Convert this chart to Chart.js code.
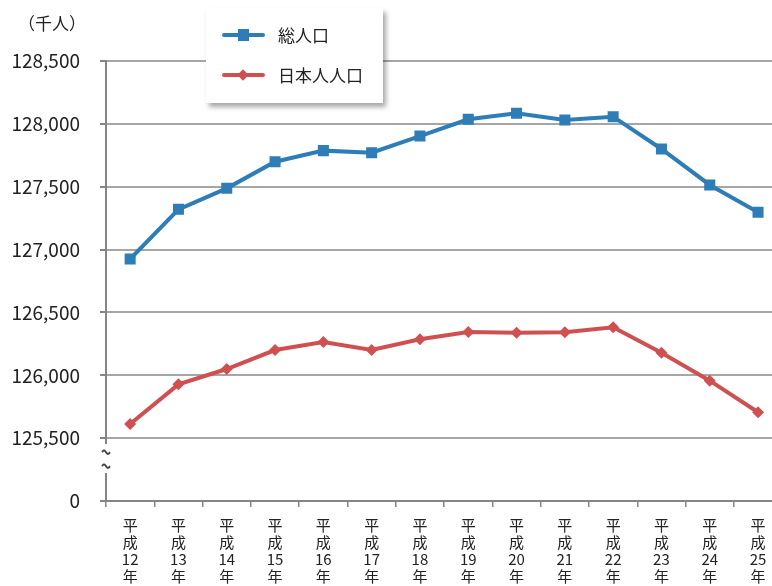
<!DOCTYPE html>
<html>
<head>
<meta charset="utf-8">
<script src="https://cdn.jsdelivr.net/npm/chart.js@4/dist/chart.umd.min.js"></script>
<style>
  html, body { margin: 0; padding: 0; background: #fff; overflow: hidden; }
  #wrap { position: relative; width: 772px; height: 586px; overflow: hidden; }
  #wrap canvas { position: absolute; left: 0; top: 0; }
  .legend {
    position: absolute; left: 206px; top: 8px; width: 177px; height: 95px;
    background: #fff; box-shadow: 3px 4px 5px rgba(0,0,0,0.35);
    font-family: "Noto Sans CJK JP", "Noto Sans", sans-serif; font-size: 17px; color: #222;
  }
  .item { position: absolute; left: 0; height: 24px; width: 177px; }
  .line { position: absolute; left: 16px; top: 10px; width: 43px; height: 4px; border-radius: 2px; }
  .mk { position: absolute; }
  .sq { left: 32px; top: 6px; width: 11px; height: 12px; }
  .dm { left: 33px; top: 8px; width: 8px; height: 8px; transform: rotate(45deg); }
  .txt { position: absolute; left: 72px; top: 0; line-height: 24px; }
</style>
</head>
<body>
<div id="wrap">
  <canvas id="c" width="790" height="586"></canvas>
  <div class="legend">
    <div class="item" style="top:15px">
      <div class="line" style="background:#2e7db6"></div>
      <div class="mk sq" style="background:#2e7db6"></div>
      <span class="txt">総人口</span>
    </div>
    <div class="item" style="top:55px">
      <div class="line" style="background:#d05052"></div>
      <div class="mk dm" style="background:#d05052"></div>
      <span class="txt">日本人人口</span>
    </div>
  </div>
</div>
<script>
// 年次（平成）
const years = [12, 13, 14, 15, 16, 17, 18, 19, 20, 21, 22, 23, 24, 25];
// 総人口（千人）
const totalPop = [126925, 127320, 127487, 127699, 127787, 127771, 127903,
                  128036, 128084, 128031, 128057, 127800, 127514, 127297];
// 日本人人口（千人）
const japanesePop = [125612, 125928, 126050, 126201, 126265, 126201, 126286,
                     126344, 126339, 126342, 126382, 126180, 125957, 125706];
// 縦軸の目盛り（125,000 は省略線の下で「0」と表示）
const yTicks = [125000, 125500, 126000, 126500, 127000, 127500, 128000, 128500];
const yBreakValue = 125000;

const labels = years.map(y => ['平', '成', String(y), '年']);

const FONT = '"Noto Sans CJK JP", "Noto Sans", sans-serif';
const AXIS = '#858585';

// 縦軸の省略記号と単位表示
const axisBreak = {
  id: 'axisBreak',
  afterDraw(chart) {
    const ctx = chart.ctx;
    const y = chart.scales.y;
    const x0 = y.right;
    const yA = y.getPixelForValue(125500) + 6;
    const yB = y.bottom - 28;
    ctx.save();
    ctx.fillStyle = '#fff';
    ctx.fillRect(x0 - 6, yA, 12, yB - yA);
    ctx.strokeStyle = '#444';
    ctx.lineWidth = 1.8;
    [yA + 8, yA + 22].forEach(cy => {
      ctx.beginPath();
      for (let i = 0; i <= 12; i++) {
        const px = x0 - 4 + i * (8 / 12);
        const py = cy - Math.sin(i / 12 * Math.PI * 2) * 1.8;
        if (i === 0) ctx.moveTo(px, py); else ctx.lineTo(px, py);
      }
      ctx.stroke();
    });
    ctx.fillStyle = '#222';
    ctx.font = '17px ' + FONT;
    ctx.textAlign = 'right';
    ctx.textBaseline = 'middle';
    ctx.fillText('（千人）', 86, 24);
    ctx.restore();
  }
};

new Chart(document.getElementById('c'), {
  type: 'line',
  data: {
    labels: labels,
    datasets: [
      {
        label: '総人口',
        data: totalPop,
        borderColor: '#2e7db6',
        backgroundColor: '#2e7db6',
        borderWidth: 4,
        pointStyle: 'rect',
        pointRadius: 7.8,
        pointBorderWidth: 0,
        tension: 0
      },
      {
        label: '日本人人口',
        data: japanesePop,
        borderColor: '#d05052',
        backgroundColor: '#d05052',
        borderWidth: 4,
        pointStyle: 'rectRot',
        pointRadius: 6,
        pointBorderWidth: 0,
        tension: 0
      }
    ]
  },
  options: {
    responsive: false,
    animation: false,
    layout: { padding: { top: 61, left: 0, right: 0, bottom: 0 } },
    plugins: { legend: { display: false }, tooltip: { enabled: false } },
    scales: {
      x: {
        offset: true,
        afterFit(s) { s.height = 85; },
        grid: { drawOnChartArea: false, tickLength: 6, color: AXIS, lineWidth: 1.5, offset: true },
        border: { color: AXIS, width: 2 },
        ticks: {
          color: '#222', padding: 10, maxRotation: 0, autoSkip: false,
          font: { family: FONT, size: 15, lineHeight: 1.12 }
        }
      },
      y: {
        min: 125000,
        max: 128500,
        afterFit(s) { s.width = 106; },
        afterBuildTicks(s) { s.ticks = yTicks.map(v => ({ value: v })); },
        grid: { color: '#a6a6a6', lineWidth: 2, tickLength: 6, tickColor: AXIS },
        border: { color: AXIS, width: 2 },
        ticks: {
          color: '#222', padding: 20,
          font: { family: FONT, size: 19 },
          callback: v => v === yBreakValue ? '0' : v.toLocaleString('en-US')
        }
      }
    }
  },
  plugins: [axisBreak]
});
</script>
</body>
</html>
